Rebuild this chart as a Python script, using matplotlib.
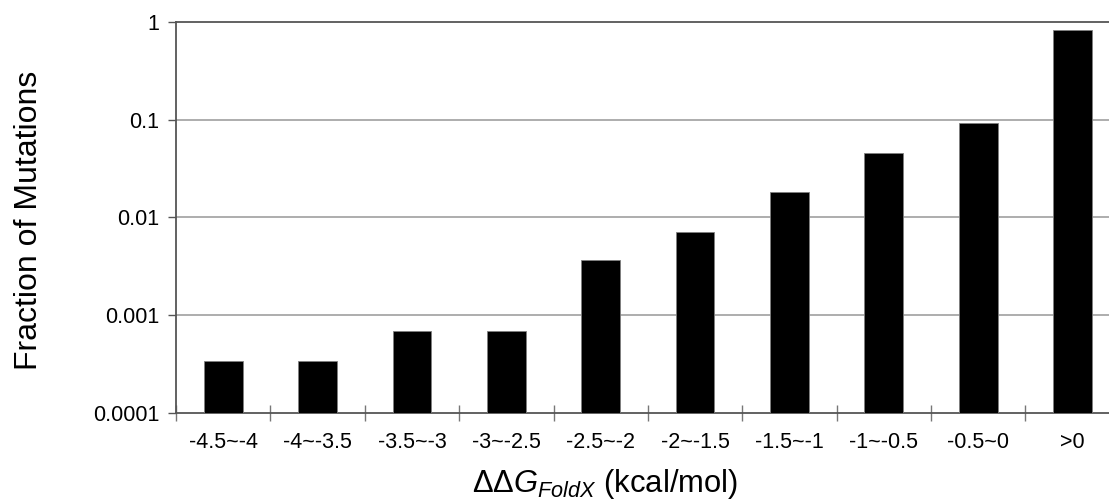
import matplotlib
matplotlib.use("Agg")
import matplotlib.pyplot as plt
import numpy as np

plt.rcParams["font.family"] = ["Liberation Sans", "DejaVu Sans"]
plt.rcParams["mathtext.fontset"] = "custom"
plt.rcParams["mathtext.rm"] = "Liberation Sans"
plt.rcParams["mathtext.it"] = "Liberation Sans:italic"

# ddG bins (kcal/mol) and fraction of mutations in each
bins = ["-4.5~-4", "-4~-3.5", "-3.5~-3", "-3~-2.5", "-2.5~-2",
        "-2~-1.5", "-1.5~-1", "-1~-0.5", "-0.5~0", ">0"]
fraction = [0.00034, 0.00034, 0.00068, 0.00068, 0.0037,
            0.0071, 0.0184, 0.046, 0.092, 0.834]

fig = plt.figure(figsize=(11.09, 5.04), dpi=100)
ax = fig.add_axes([0.1587, 0.1812, 0.851, 0.7746])

x = np.arange(len(bins))
ax.bar(x, fraction, width=0.41, color="black", edgecolor="#808080", lw=0.6, zorder=3)

ax.set_yscale("log")
ax.set_ylim(1e-4, 1)
ax.set_xlim(-0.5, len(bins) - 0.5)

yt = [1e-4, 1e-3, 1e-2, 1e-1, 1]
ax.set_yticks(yt)
ax.set_yticklabels(["0.0001", "0.001", "0.01", "0.1", "1"])
ax.yaxis.set_minor_locator(matplotlib.ticker.NullLocator())
ax.tick_params(axis="y", which="major", length=6, width=1, color="#555555",
               labelsize=15.5, pad=6)

ax.set_xticks(x)
ax.set_xticklabels(bins)
ax.set_xticks(np.arange(len(bins) + 1) - 0.5, minor=True)
ax.tick_params(axis="x", which="major", length=0, labelsize=15.5, pad=14)
ax.tick_params(axis="x", which="minor", length=11, width=1, direction="inout", color="#777777")

for v in [1e-3, 1e-2, 1e-1]:
    ax.axhline(v, color="#a0a0a0", lw=1.2, zorder=1)

for s in ["left", "bottom", "top"]:
    ax.spines[s].set_color("#555555")
    ax.spines[s].set_linewidth(1.3)
ax.spines["right"].set_visible(False)

fig.text(0.026, 0.563, "Fraction of Mutations", rotation=90, ha="center", va="center", fontsize=23)
fig.text(0.546, 0.04, r"$\Delta\Delta \mathit{G}_{\mathit{FoldX}}$ (kcal/mol)",
         ha="center", va="center", fontsize=22.3)

fig.savefig("out.png", dpi=100, facecolor="white")
